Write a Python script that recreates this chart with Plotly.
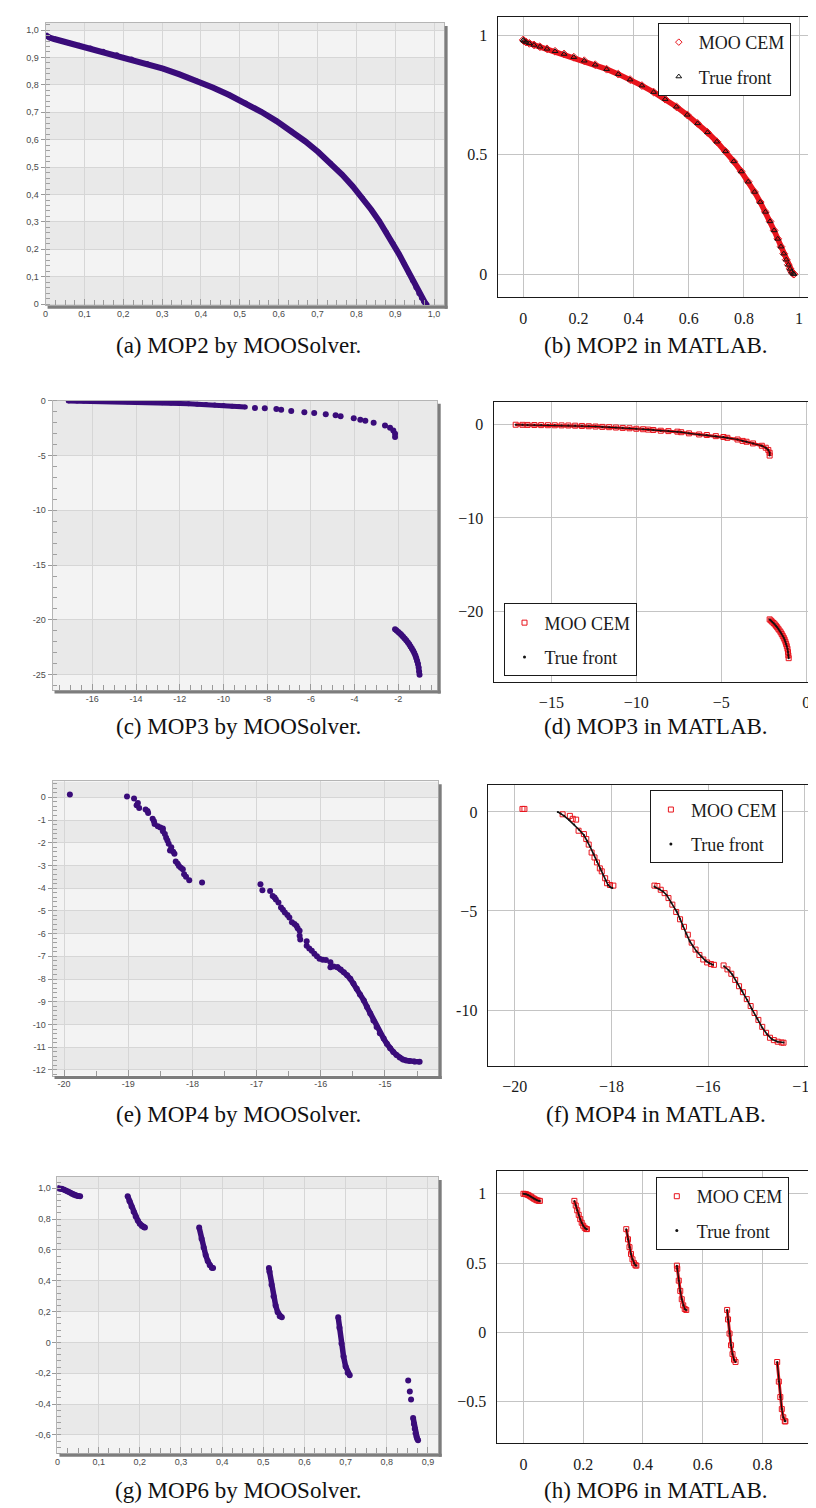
import plotly.graph_objects as go

W, H = 816, 1508

# ---------------- data ----------------
# MOP2 front (f1, f2)
mop2_f1 = [0.0, 0.0025, 0.0100, 0.0222, 0.0392, 0.0606, 0.0861, 0.1153, 0.1479, 0.1833, 0.2212,
           0.2610, 0.3023, 0.3446, 0.3874, 0.4302, 0.4727, 0.5145, 0.5551, 0.5944, 0.6321, 0.6679,
           0.7018, 0.7335, 0.7631, 0.7904, 0.8155, 0.8384, 0.8591, 0.8779, 0.8946, 0.9095, 0.9227,
           0.9343, 0.9444, 0.9532, 0.9608, 0.9674, 0.9729, 0.9777, 0.9817]
mop2_f2 = [0.9817, 0.9777, 0.9729, 0.9674, 0.9608, 0.9532, 0.9444, 0.9343, 0.9227, 0.9095, 0.8946,
           0.8779, 0.8591, 0.8384, 0.8155, 0.7904, 0.7631, 0.7335, 0.7018, 0.6679, 0.6321, 0.5944,
           0.5551, 0.5145, 0.4727, 0.4302, 0.3874, 0.3446, 0.3023, 0.2610, 0.2212, 0.1833, 0.1479,
           0.1153, 0.0861, 0.0606, 0.0392, 0.0222, 0.0100, 0.0025, 0.0]

# MOP3
mop3_upper_x = [-17.1, -16.7, -16.4, -16.0, -15.6, -15.2, -14.8, -14.4, -14.0, -13.6, -13.2, -12.8,
                -12.4, -12.0, -11.6, -11.2, -10.8, -10.4, -10.0, -9.6, -9.3, -9.0]
mop3_upper_y = [-0.02, -0.03, -0.04, -0.05, -0.06, -0.07, -0.08, -0.09, -0.10, -0.12, -0.15, -0.18,
                -0.21, -0.25, -0.28, -0.32, -0.36, -0.40, -0.45, -0.50, -0.54, -0.58]
mop3_sparse_x = [-8.56, -8.11, -7.58, -7.36, -6.90, -6.30, -5.85, -5.32, -4.87, -4.64, -4.04, -3.74,
                 -3.51, -3.13, -2.61, -2.38, -2.23, -2.15, -2.15]
mop3_sparse_y = [-0.66, -0.70, -0.76, -0.82, -0.94, -1.06, -1.12, -1.24, -1.33, -1.42, -1.60, -1.75,
                 -1.84, -2.02, -2.27, -2.48, -2.72, -3.02, -3.32]
mop3_lower_x = [-2.15, -2.08, -2.00, -1.92, -1.85, -1.78, -1.71, -1.64, -1.57, -1.50, -1.44, -1.38,
                -1.32, -1.27, -1.22, -1.18, -1.14, -1.10, -1.07, -1.05, -1.03]
mop3_lower_y = [-20.85, -20.97, -21.10, -21.24, -21.38, -21.53, -21.69, -21.86, -22.04, -22.23, -22.42,
                -22.62, -22.82, -23.02, -23.25, -23.48, -23.72, -24.00, -24.35, -24.70, -25.00]

# MOP4 by MOOSolver
mop4_pts_x = [-19.91, -19.02, -18.91, -18.87, -18.85, -18.83, -18.73, -18.70, -18.69, -18.62, -18.60,
              -18.59, -18.54, -18.50, -18.46, -18.46, -18.43, -18.41, -18.39, -18.37, -18.35, -18.33,
              -18.30, -18.28, -18.26, -18.23, -18.21, -18.18, -18.15, -18.13, -18.10, -18.05, -17.85,
              -16.94, -16.91, -16.79, -16.75, -16.72, -16.70, -16.66, -16.62, -16.59, -16.56, -16.52,
              -16.49, -16.45, -16.41, -16.38, -16.36, -16.33, -16.33, -16.32, -16.22, -16.22, -16.18,
              -16.14, -16.10, -16.06, -16.02, -15.97, -15.92, -15.85, -15.85, -15.80, -15.74]
mop4_pts_y = [0.12, 0.04, -0.05, -0.35, -0.25, -0.47, -0.54, -0.60, -0.69, -0.94, -1.05,
              -1.17, -1.27, -1.33, -1.37, -1.49, -1.62, -1.78, -1.90, -2.05, -2.34, -2.20,
              -2.40, -2.48, -2.83, -2.92, -3.02, -3.10, -3.17, -3.39, -3.50, -3.65, -3.75,
              -3.83, -4.09, -4.12, -4.34, -4.41, -4.50, -4.63, -4.85, -4.95, -5.07, -5.18,
              -5.29, -5.50, -5.58, -5.65, -5.76, -5.87, -6.09, -6.26, -6.34, -6.53, -6.65,
              -6.75, -6.89, -7.00, -7.11, -7.15, -7.16, -7.26, -7.48, -7.45, -7.48]
mop4_dense_x = [-15.74, -15.69, -15.64, -15.59, -15.54, -15.49, -15.44, -15.39, -15.33, -15.28, -15.23,
                -15.18, -15.13, -15.08, -15.02, -14.97, -14.92, -14.87, -14.82, -14.77, -14.72, -14.67,
                -14.62, -14.54, -14.46]
mop4_dense_y = [-7.48, -7.58, -7.70, -7.83, -7.99, -8.20, -8.43, -8.68, -8.94, -9.23, -9.52,
                -9.82, -10.11, -10.38, -10.62, -10.85, -11.05, -11.21, -11.34, -11.45, -11.54, -11.58,
                -11.61, -11.63, -11.64]

# MOP4 in MATLAB: true front segments and MOO CEM points
mop4_true_x = [-19.11, -19.05, -18.98, -18.88, -18.77, -18.67, -18.57, -18.50, -18.44, -18.37, -18.30,
               -18.23, -18.17, -18.12, -18.07, -18.02, -17.98, None,
               -17.11, -17.00, -16.93, -16.86, -16.76, -16.65, -16.58, -16.52, -16.45, -16.38, -16.31,
               -16.24, -16.14, -16.04, -15.97, -15.90, None,
               -15.67, -15.58, -15.50, -15.40, -15.29, -15.19, -15.09, -14.98, -14.88, -14.78, -14.68,
               -14.56, -14.44]
mop4_true_y = [0.00, -0.08, -0.20, -0.40, -0.64, -0.90, -1.17, -1.45, -1.76, -2.13, -2.51,
               -2.86, -3.18, -3.45, -3.69, -3.80, -3.84, None,
               -3.77, -3.90, -4.02, -4.19, -4.58, -5.03, -5.40, -5.78, -6.15, -6.53, -6.80,
               -7.04, -7.30, -7.54, -7.64, -7.71, None,
               -7.79, -7.98, -8.21, -8.62, -9.05, -9.50, -9.97, -10.44, -10.89, -11.22, -11.48,
               -11.60, -11.64]
mop4_cem_x = [-19.84, -19.80, -19.01, -18.86, -18.80, -18.73, -18.68, -18.57, -18.52, -18.47, -18.41,
              -18.35, -18.30, -18.24, -18.20, -18.13, -18.09, -18.03, -17.96,
              -17.11, -17.05, -16.98, -16.90, -16.82, -16.74, -16.66, -16.58, -16.50, -16.42, -16.34,
              -16.26, -16.18, -16.10, -16.02, -15.94, -15.88,
              -15.68, -15.60, -15.52, -15.44, -15.36, -15.28, -15.20, -15.12, -15.04, -14.96, -14.88,
              -14.80, -14.72, -14.64, -14.56, -14.48, -14.44]
mop4_cem_y = [0.15, 0.15, -0.12, -0.20, -0.35, -0.39, -0.95, -1.12, -1.37, -1.65, -2.05,
              -2.30, -2.55, -2.85, -3.00, -3.35, -3.60, -3.69, -3.72,
              -3.72, -3.74, -3.93, -4.10, -4.35, -4.68, -5.05, -5.42, -5.80, -6.20, -6.60,
              -6.95, -7.22, -7.45, -7.60, -7.68, -7.72,
              -7.75, -7.95, -8.17, -8.48, -8.80, -9.10, -9.45, -9.80, -10.15, -10.50, -10.85,
              -11.15, -11.40, -11.52, -11.60, -11.64, -11.65]

# MOP6 front (six disconnected segments)
mop6_x = [0.0, 0.005, 0.01, 0.015, 0.02, 0.025, 0.03, 0.035, 0.04, 0.045, 0.05, 0.055, None,
          0.1705, 0.175, 0.18, 0.185, 0.19, 0.195, 0.2, 0.205, 0.21, 0.2125, None,
          0.3442, 0.35, 0.355, 0.36, 0.365, 0.37, 0.375, 0.378, None,
          0.5137, 0.515, 0.52, 0.525, 0.53, 0.535, 0.54, 0.545, None,
          0.682, 0.685, 0.69, 0.695, 0.70, 0.705, 0.71, None,
          0.8495, 0.855, 0.86, 0.865, 0.87, 0.875, 0.877]
mop6_y = [1.0, 0.999, 0.9962, 0.9917, 0.9859, 0.9791, 0.9720, 0.9649, 0.9585, 0.9533, 0.9499, 0.9488, None,
          0.9488, 0.9153, 0.8809, 0.8479, 0.8175, 0.7911, 0.7698, 0.7546, 0.7463, 0.7452, None,
          0.745, 0.6718, 0.6152, 0.5665, 0.5274, 0.4997, 0.4844, 0.4820, None,
          0.482, 0.4589, 0.3737, 0.2997, 0.2396, 0.1956, 0.1695, 0.1623, None,
          0.1623, 0.0942, -0.0077, -0.0920, -0.1558, -0.1964, -0.2127, None,
          -0.213, -0.3543, -0.4657, -0.5525, -0.6115, -0.6406, -0.641]
# MOOSolver MOP6: dense part and a few isolated points on the last segment
mop6_solver_x = [0.0, 0.005, 0.01, 0.015, 0.02, 0.025, 0.03, 0.035, 0.04, 0.045, 0.05, 0.055, None,
                 0.1705, 0.175, 0.18, 0.185, 0.19, 0.195, 0.2, 0.205, 0.21, 0.2125, None,
                 0.3442, 0.35, 0.355, 0.36, 0.365, 0.37, 0.375, 0.378, None,
                 0.5137, 0.515, 0.52, 0.525, 0.53, 0.535, 0.54, 0.545, None,
                 0.682, 0.685, 0.69, 0.695, 0.70, 0.705, 0.71, None,
                 0.864, 0.866, 0.868, 0.870, 0.872, 0.874, 0.876]
mop6_solver_y = [1.0, 0.999, 0.9962, 0.9917, 0.9859, 0.9791, 0.9720, 0.9649, 0.9585, 0.9533, 0.9499, 0.9488, None,
                 0.9488, 0.9153, 0.8809, 0.8479, 0.8175, 0.7911, 0.7698, 0.7546, 0.7463, 0.7452, None,
                 0.745, 0.6718, 0.6152, 0.5665, 0.5274, 0.4997, 0.4844, 0.4820, None,
                 0.482, 0.4589, 0.3737, 0.2997, 0.2396, 0.1956, 0.1695, 0.1623, None,
                 0.1623, 0.0942, -0.0077, -0.0920, -0.1558, -0.1964, -0.2127, None,
                 -0.49, -0.53, -0.56, -0.59, -0.61, -0.625, -0.635]
mop6_iso_x = [0.852, 0.856, 0.859]
mop6_iso_y = [-0.248, -0.318, -0.37]

# tick labels
a_ticks = [0, 0.1, 0.2, 0.3, 0.4, 0.5, 0.6, 0.7, 0.8, 0.9, 1.0]
a_text = ["0", "0,1", "0,2", "0,3", "0,4", "0,5", "0,6", "0,7", "0,8", "0,9", "1,0"]
b_xticks = [0, 0.2, 0.4, 0.6, 0.8, 1]
b_xtext = ["0", "0.2", "0.4", "0.6", "0.8", "1"]
b_yticks = [0, 0.5, 1]
b_ytext = ["0", "0.5", "1"]
c_xticks = [-16, -14, -12, -10, -8, -6, -4, -2]
c_xtext = ["-16", "-14", "-12", "-10", "-8", "-6", "-4", "-2"]
c_yticks = [-25, -20, -15, -10, -5, 0]
c_ytext = ["-25", "-20", "-15", "-10", "-5", "0"]
d_xticks = [-15, -10, -5, 0]
d_xtext = ["\u221215", "\u221210", "\u22125", "0"]
d_yticks = [-20, -10, 0]
d_ytext = ["\u221220", "\u221210", "0"]
e_xticks = [-20, -19, -18, -17, -16, -15]
e_xtext = ["-20", "-19", "-18", "-17", "-16", "-15"]
e_yticks = [-12, -11, -10, -9, -8, -7, -6, -5, -4, -3, -2, -1, 0]
e_ytext = ["-12", "-11", "-10", "-9", "-8", "-7", "-6", "-5", "-4", "-3", "-2", "-1", "0"]
f_xticks = [-20, -18, -16, -14]
f_xtext = ["\u221220", "\u221218", "\u221216", "\u221214"]
f_yticks = [-10, -5, 0]
f_ytext = ["-10", "\u22125", "0"]
g_xticks = [0, 0.1, 0.2, 0.3, 0.4, 0.5, 0.6, 0.7, 0.8, 0.9]
g_xtext = ["0", "0,1", "0,2", "0,3", "0,4", "0,5", "0,6", "0,7", "0,8", "0,9"]
g_yticks = [-0.6, -0.4, -0.2, 0, 0.2, 0.4, 0.6, 0.8, 1.0]
g_ytext = ["-0,6", "-0,4", "-0,2", "0", "0,2", "0,4", "0,6", "0,8", "1,0"]
h_xticks = [0, 0.2, 0.4, 0.6, 0.8]
h_xtext = ["0", "0.2", "0.4", "0.6", "0.8"]
h_yticks = [-0.5, 0, 0.5, 1]
h_ytext = ["\u22120.5", "0", "0.5", "1"]

captions = ["(a) MOP2 by MOOSolver.", "(b) MOP2 in MATLAB.",
            "(c) MOP3 by MOOSolver.", "(d) MOP3 in MATLAB.",
            "(e) MOP4 by MOOSolver.", "(f) MOP4 in MATLAB.",
            "(g) MOP6 by MOOSolver.", "(h) MOP6 in MATLAB."]

# ---------------- styling / layout ----------------
PURPLE = "#3a0c7a"
RED = "#e8141c"
SERIF = "Liberation Serif, Times New Roman, serif"
SANS = "Liberation Sans, Arial, sans-serif"

fig = go.Figure()
shapes = []


def sfx(i):
    return "" if i == 1 else str(i)


def left_panel(i, box, xr, yr, xtv, xtt, ytv, ytt, xminor, yminor):
    L, R, T, B = box
    s = sfx(i)
    common = dict(showgrid=True, gridcolor="#d6d6d6", gridwidth=1, zeroline=False,
                  showline=True, linecolor="#b5b5b5", linewidth=1, mirror=True,
                  tickcolor="#9a9a9a", tickfont=dict(family=SANS, size=9, color="#4a4a4a"),
                  fixedrange=True, tickmode="array")
    xa = dict(domain=[L / W, R / W], range=xr, anchor="y" + s, tickvals=xtv, ticktext=xtt,
              ticks="inside", ticklen=6,
              minor=dict(dtick=xminor, tick0=0, ticks="inside", ticklen=5, tickcolor="#9a9a9a",
                         showgrid=False), **common)
    ya = dict(domain=[1 - B / H, 1 - T / H], range=yr, anchor="x" + s, tickvals=ytv, ticktext=ytt,
              ticks="outside", ticklen=4,
              minor=dict(dtick=yminor, tick0=0, ticks="inside", ticklen=4, tickcolor="#a0a0a0",
                         showgrid=False), **common)
    fig.update_layout(**{"xaxis" + s: xa, "yaxis" + s: ya})
    # background bands
    shapes.append(dict(type="rect", xref="x" + s + " domain", yref="y" + s + " domain",
                       x0=0, x1=1, y0=0, y1=1, fillcolor="#f3f3f3", line=dict(width=0),
                       layer="below"))
    tv = sorted(ytv)
    for k in range(0, len(tv), 2):
        y0 = tv[k]
        y1 = tv[k + 1] if k + 1 < len(tv) else yr[1]
        if y1 <= y0:
            continue
        shapes.append(dict(type="rect", xref="x" + s + " domain", yref="y" + s,
                           x0=0, x1=1, y0=y0, y1=y1, fillcolor="#e9e9e9",
                           line=dict(width=0), layer="below"))
    # drop shadow right & bottom
    shapes.append(dict(type="rect", xref="paper", yref="paper",
                       x0=(R + 0.5) / W, x1=(R + 3.5) / W, y0=1 - (B + 3.5) / H, y1=1 - (T + 3) / H,
                       fillcolor="#7d7d7d", line=dict(width=0), layer="above"))
    shapes.append(dict(type="rect", xref="paper", yref="paper",
                       x0=(L + 2) / W, x1=(R + 3.5) / W, y0=1 - (B + 3.5) / H, y1=1 - (B + 0.5) / H,
                       fillcolor="#7d7d7d", line=dict(width=0), layer="above"))


def right_panel(i, box, xr, yr, xtv, xtt, ytv, ytt):
    L, R, T, B = box
    s = sfx(i)
    common = dict(showgrid=True, gridcolor="#c4c4c4", gridwidth=1, zeroline=False,
                  showline=True, linecolor="#1a1a1a", linewidth=1.2, mirror=True, ticks="",
                  tickfont=dict(family=SERIF, size=16, color="#1a1a1a"), fixedrange=True,
                  tickmode="array", ticklabelstandoff=6)
    xa = dict(domain=[L / W, R / W], range=xr, anchor="y" + s, tickvals=xtv, ticktext=xtt, **common)
    ya = dict(domain=[1 - B / H, 1 - T / H], range=yr, anchor="x" + s, tickvals=ytv, ticktext=ytt,
              **common)
    fig.update_layout(**{"xaxis" + s: xa, "yaxis" + s: ya})


def legend_box(key, left, top):
    fig.update_layout(**{key: dict(x=left / W, y=1 - top / H, xanchor="left", yanchor="top",
                                   bgcolor="white", bordercolor="#1a1a1a", borderwidth=1,
                                   font=dict(family=SERIF, size=18, color="#1a1a1a"),
                                   tracegroupgap=8, traceorder="grouped", itemwidth=30)})


def ax(i):
    s = sfx(i)
    return dict(xaxis="x" + s, yaxis="y" + s)


# panel boxes (left, right, top, bottom) in px
BOX = {1: (35, 438, 10, 294), 2: (492, 815, 4, 286),
       3: (42, 431, 390, 681), 4: (488, 814, 391, 673),
       5: (42, 432, 773, 1069), 6: (482, 809, 777, 1059),
       7: (47, 432, 1171, 1449), 8: (491, 809, 1165, 1439)}

left_panel(1, BOX[1], [0, 1.026], [-0.004, 1.026], a_ticks, a_text, a_ticks, a_text, 0.025, 0.02)
right_panel(2, BOX[2], [-0.093, 1.065], [-0.097, 1.078], b_xticks, b_xtext, b_yticks, b_ytext)
left_panel(3, BOX[3], [-17.82, -0.22], [-26.39, 0.0], c_xticks, c_xtext, c_yticks, c_ytext, 0.5, 1)
right_panel(4, BOX[4], [-18.4, 0.58], [-27.55, 2.45], d_xticks, d_xtext, d_yticks, d_ytext)
left_panel(5, BOX[5], [-20.18, -14.17], [-12.25, 0.70], e_xticks, e_xtext, e_yticks, e_ytext, 0.5, 0.2)
right_panel(6, BOX[6], [-20.56, -13.87], [-12.81, 1.34], f_xticks, f_xtext, f_yticks, f_ytext)
left_panel(7, BOX[7], [0, 0.925], [-0.72, 1.073], g_xticks, g_xtext, g_yticks, g_ytext, 0.025, 0.04)
right_panel(8, BOX[8], [-0.09, 0.963], [-0.80, 1.164], h_xticks, h_xtext, h_yticks, h_ytext)

# ---- (a) MOP2 by MOOSolver
fig.add_trace(go.Scatter(x=mop2_f1, y=mop2_f2, mode="lines+markers", showlegend=False,
                         line=dict(color=PURPLE, width=6), marker=dict(color=PURPLE, size=5),
                         **ax(1)))
# ---- (b) MOP2 in MATLAB
fig.add_trace(go.Scatter(x=mop2_f1, y=mop2_f2, mode="lines+markers", showlegend=False,
                         line=dict(color=RED, width=5.5),
                         marker=dict(symbol="diamond-open", color=RED, size=6, line=dict(width=1)),
                         **ax(2)))
fig.add_trace(go.Scatter(x=mop2_f1, y=mop2_f2, mode="markers", showlegend=False,
                         marker=dict(symbol="triangle-up-open", color="#111111", size=5,
                                     line=dict(width=1)), **ax(2)))
fig.add_trace(go.Scatter(x=[None], y=[None], mode="markers", name="MOO CEM", legend="legend",
                         legendgroup="b1",
                         marker=dict(symbol="diamond-open", color=RED, size=5, line=dict(width=1)),
                         **ax(2)))
fig.add_trace(go.Scatter(x=[None], y=[None], mode="markers", name="True front", legend="legend",
                         legendgroup="b2",
                         marker=dict(symbol="triangle-up-open", color="#111111", size=5,
                                     line=dict(width=1)), **ax(2)))
legend_box("legend", 654, 10)

# ---- (c) MOP3 by MOOSolver
fig.add_trace(go.Scatter(x=mop3_upper_x, y=mop3_upper_y, mode="lines+markers", showlegend=False,
                         line=dict(color=PURPLE, width=5), marker=dict(color=PURPLE, size=5),
                         **ax(3)))
fig.add_trace(go.Scatter(x=mop3_sparse_x, y=mop3_sparse_y, mode="markers", showlegend=False,
                         marker=dict(color=PURPLE, size=6), **ax(3)))
fig.add_trace(go.Scatter(x=mop3_lower_x, y=mop3_lower_y, mode="lines+markers", showlegend=False,
                         line=dict(color=PURPLE, width=5), marker=dict(color=PURPLE, size=6),
                         **ax(3)))
# ---- (d) MOP3 in MATLAB
mop3_all_x = mop3_upper_x + mop3_sparse_x + [None] + mop3_lower_x
mop3_all_y = mop3_upper_y + mop3_sparse_y + [None] + mop3_lower_y
fig.add_trace(go.Scatter(x=mop3_all_x, y=mop3_all_y, mode="lines+markers", showlegend=False,
                         line=dict(color=RED, width=3),
                         marker=dict(symbol="square-open", color=RED, size=5, line=dict(width=1)),
                         **ax(4)))
fig.add_trace(go.Scatter(x=mop3_all_x, y=mop3_all_y, mode="lines+markers", showlegend=False,
                         line=dict(color="#111111", width=1.2), marker=dict(color="#111111", size=2),
                         **ax(4)))
fig.add_trace(go.Scatter(x=[None], y=[None], mode="markers", name="MOO CEM", legend="legend2",
                         legendgroup="d1",
                         marker=dict(symbol="square-open", color=RED, size=5, line=dict(width=1)),
                         **ax(4)))
fig.add_trace(go.Scatter(x=[None], y=[None], mode="markers", name="True front", legend="legend2",
                         legendgroup="d2", marker=dict(color="#111111", size=3), **ax(4)))
legend_box("legend2", 498, 594)

# ---- (e) MOP4 by MOOSolver
fig.add_trace(go.Scatter(x=mop4_pts_x, y=mop4_pts_y, mode="markers", showlegend=False,
                         marker=dict(color=PURPLE, size=6), **ax(5)))
fig.add_trace(go.Scatter(x=mop4_dense_x, y=mop4_dense_y, mode="lines+markers", showlegend=False,
                         line=dict(color=PURPLE, width=5.5), marker=dict(color=PURPLE, size=6),
                         **ax(5)))
# ---- (f) MOP4 in MATLAB
fig.add_trace(go.Scatter(x=mop4_cem_x, y=mop4_cem_y, mode="markers", showlegend=False,
                         marker=dict(symbol="square-open", color=RED, size=5, line=dict(width=1)),
                         **ax(6)))
fig.add_trace(go.Scatter(x=mop4_true_x, y=mop4_true_y, mode="lines+markers", showlegend=False,
                         line=dict(color="#111111", width=1.6), marker=dict(color="#111111", size=2),
                         **ax(6)))
fig.add_trace(go.Scatter(x=[None], y=[None], mode="markers", name="MOO CEM", legend="legend3",
                         legendgroup="f1",
                         marker=dict(symbol="square-open", color=RED, size=5, line=dict(width=1)),
                         **ax(6)))
fig.add_trace(go.Scatter(x=[None], y=[None], mode="markers", name="True front", legend="legend3",
                         legendgroup="f2", marker=dict(color="#111111", size=3), **ax(6)))
legend_box("legend3", 646, 782)

# ---- (g) MOP6 by MOOSolver
fig.add_trace(go.Scatter(x=mop6_solver_x, y=mop6_solver_y, mode="lines+markers", showlegend=False,
                         line=dict(color=PURPLE, width=5.5), marker=dict(color=PURPLE, size=6),
                         **ax(7)))
fig.add_trace(go.Scatter(x=mop6_iso_x, y=mop6_iso_y, mode="markers", showlegend=False,
                         marker=dict(color=PURPLE, size=6), **ax(7)))
# ---- (h) MOP6 in MATLAB
fig.add_trace(go.Scatter(x=mop6_x, y=mop6_y, mode="lines+markers", showlegend=False,
                         line=dict(color=RED, width=3),
                         marker=dict(symbol="square-open", color=RED, size=5, line=dict(width=1)),
                         **ax(8)))
fig.add_trace(go.Scatter(x=mop6_x, y=mop6_y, mode="lines+markers", showlegend=False,
                         line=dict(color="#111111", width=1.2), marker=dict(color="#111111", size=2),
                         **ax(8)))
fig.add_trace(go.Scatter(x=[None], y=[None], mode="markers", name="MOO CEM", legend="legend4",
                         legendgroup="h1",
                         marker=dict(symbol="square-open", color=RED, size=5, line=dict(width=1)),
                         **ax(8)))
fig.add_trace(go.Scatter(x=[None], y=[None], mode="markers", name="True front", legend="legend4",
                         legendgroup="h2", marker=dict(color="#111111", size=3), **ax(8)))
legend_box("legend4", 652, 1171)

# ---- captions
cap_x = [230, 652]
cap_y = [334, 718, 1108, 1486]
annotations = []
for k, text in enumerate(captions):
    annotations.append(dict(text=text, xref="paper", yref="paper", x=cap_x[k % 2] / W,
                            y=1 - cap_y[k // 2] / H, xanchor="center", yanchor="middle",
                            showarrow=False, font=dict(family=SERIF, size=23, color="#111111")))

fig.update_layout(width=W, height=H, margin=dict(l=0, r=0, t=0, b=0),
                  paper_bgcolor="white", plot_bgcolor="white",
                  shapes=shapes, annotations=annotations, showlegend=True)

fig.write_html("out.html")
